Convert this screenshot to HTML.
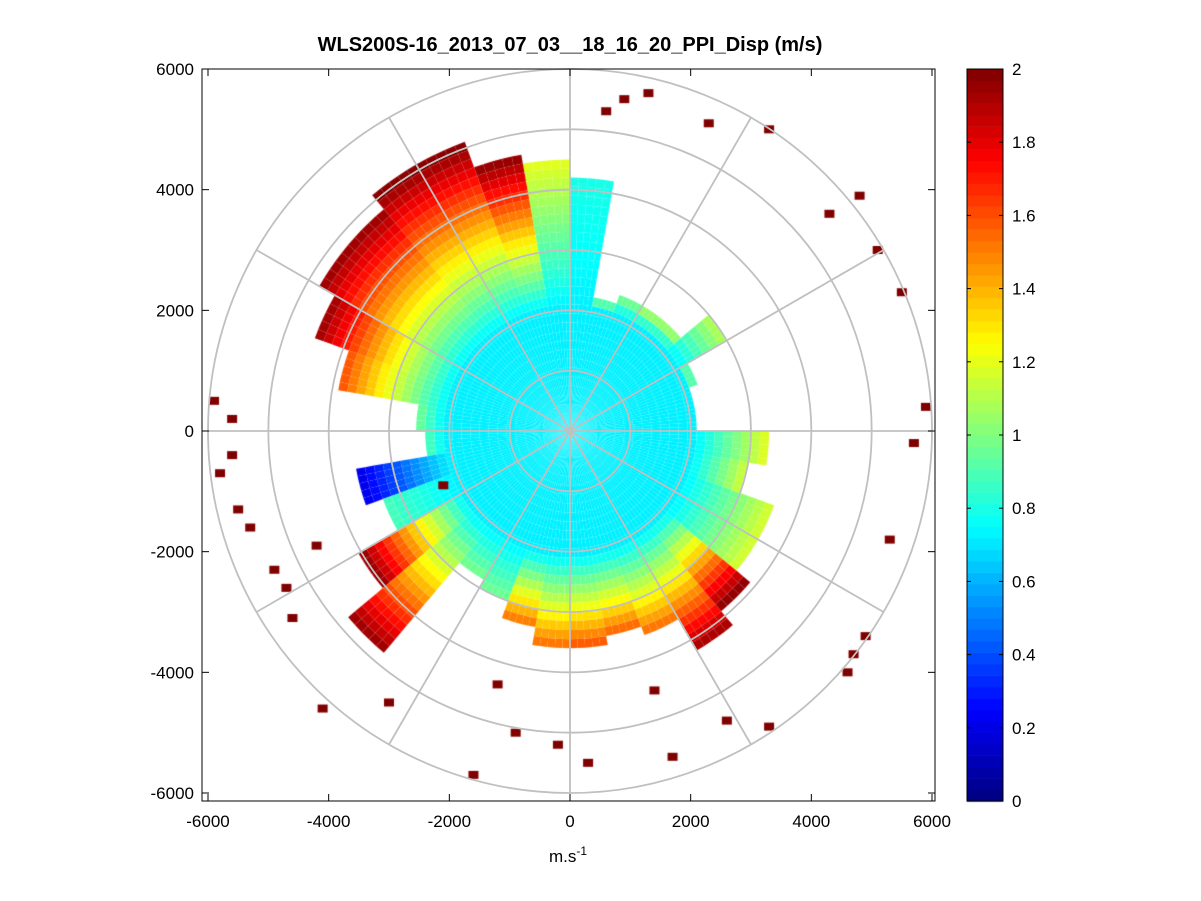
<!DOCTYPE html>
<html><head><meta charset="utf-8"><style>
body{margin:0;background:#fff;width:1201px;height:901px;overflow:hidden;font-family:"Liberation Sans",sans-serif}
#wrap{position:relative;width:1201px;height:901px}
canvas{position:absolute;left:0;top:0}
svg{position:absolute;left:0;top:0}
</style></head><body><div id="wrap">
<canvas id="cv" width="1201" height="901"></canvas>
<svg id="sv" width="1201" height="901"></svg>
</div>
<script>
// sector data: start angle (deg, CCW from east), reach (m), edge value (m/s)
const sectorStart=[0,10,20,30,40,50,60,70,80,90,100,110,120,130,140,150,160,170,180,190,200,210,220,230,240,250,260,270,280,290,300,310,320,330,340,350];
const sectorReach=[2100,2100,2200,2900,2300,2300,2400,2200,4200,4400,4600,5000,5000,4800,4800,4500,3800,2500,2300,3500,3300,4000,4800,2800,3000,3300,3600,3500,3400,3600,4200,3800,3600,3600,3000,3200];
const sectorEdge=[1.1,1.1,1.1,1.1,1.1,1.1,1.1,1.1,0.8,1.2,2,2,2,2,2,2,1.6,1.0,0.9,0.2,0.9,2,2,1.0,1.0,1.6,1.6,1.6,1.6,1.6,2,2,1.2,1.2,1.2,1.2];
const coreValue=0.72, coreRadius=2000;
// isolated outlier echoes (x m, y m, value)
const outX=[-5900,-5600,-5300,-4900,-4700,-4200,600,900,1300,2300,3300,4300,4800,5100,5500,5900,5700,5300,4900,4700,3300,2600,1700,-200,-900,-1200,-3000,-4100,-4600,-5500,-5600,-5800,-2100,-1600,300,1400,4600];
const outY=[500,-400,-1600,-2300,-2600,-1900,5300,5500,5600,5100,5000,3600,3900,3000,2300,400,-200,-1800,-3400,-3700,-4900,-4800,-5400,-5200,-5000,-4200,-4500,-4600,-3100,-1300,200,-700,-900,-5700,-5500,-4300,-4000];
const outV=[2,2,2,2,2,2,2,2,2,2,2,2,2,2,2,2,2,2,2,2,2,2,2,2,2,2,2,2,2,2,2,2,2,2,2,2,2];
const cbTicks=[0,0.2,0.4,0.6,0.8,1,1.2,1.4,1.6,1.8,2];
const xTicks=[-6000,-4000,-2000,0,2000,4000,6000];
const yTicks=[6000,4000,2000,0,-2000,-4000,-6000];

const CX=570,CY=431,S=362/6000;
const X=m=>CX+m*S, Y=m=>CY-m*S;
function jet(v){let t=Math.max(0,Math.min(1,v/2));
 const f=x=>Math.max(0,Math.min(1,1.5-Math.abs(4*t-x)));
 return `rgb(${Math.round(255*f(3))},${Math.round(255*f(2))},${Math.round(255*f(1))})`;}
const cv=document.getElementById('cv').getContext('2d');
for(let i=0;i<sectorStart.length;i++){
 for(let a=0;a<10;a+=2){
  const a0=(sectorStart[i]+a)*Math.PI/180,a1=(sectorStart[i]+a+2)*Math.PI/180;
  const step=150;
  for(let r=0;r<sectorReach[i];r+=step){
   let v=coreValue;
   if(r>coreRadius){const f=(r-coreRadius)/Math.max(1,sectorReach[i]-coreRadius);v=coreValue+(sectorEdge[i]-coreValue)*f;}
   cv.fillStyle=jet(v);cv.beginPath();
   cv.moveTo(X(r*Math.cos(a0)),Y(r*Math.sin(a0)));
   cv.lineTo(X((r+step)*Math.cos(a0)),Y((r+step)*Math.sin(a0)));
   cv.lineTo(X((r+step)*Math.cos(a1)),Y((r+step)*Math.sin(a1)));
   cv.lineTo(X(r*Math.cos(a1)),Y(r*Math.sin(a1)));
   cv.closePath();cv.fill();
  }}}
for(let i=0;i<outX.length;i++){cv.fillStyle=jet(outV[i]);cv.fillRect(X(outX[i])-5,Y(outY[i])-4,10,8);}
for(let k=0;k<64;k++){cv.fillStyle=jet((k+0.5)/64*2);const y0=801-(k+1)*732/64;cv.fillRect(967,y0,36,732/64+0.6);}

const sv=document.getElementById('sv');const NS='http://www.w3.org/2000/svg';
function el(t,a,p){const e=document.createElementNS(NS,t);for(const k in a)e.setAttribute(k,a[k]);(p||sv).appendChild(e);return e;}
const g=el('g',{});


for(let r=1000;r<=6000;r+=1000){el('circle',{cx:CX,cy:CY,r:r*S,fill:'none',stroke:'#c0c0c0','stroke-width':1.8},g);}
for(let a=0;a<360;a+=30){const t=a*Math.PI/180;el('line',{x1:CX,y1:CY,x2:X(6000*Math.cos(t)),y2:Y(6000*Math.sin(t)),stroke:'#c0c0c0','stroke-width':1.8},g);}
const box=el('rect',{x:202,y:69,width:733,height:732,fill:'none',stroke:'#000','stroke-width':1});


xTicks.forEach(v=>{const x=X(v);el('line',{x1:x,y1:801,x2:x,y2:794,stroke:'#000'});el('line',{x1:x,y1:69,x2:x,y2:76,stroke:'#000'});
 const t=el('text',{x:x,y:827,'text-anchor':'middle','font-size':17});t.textContent=v;
 
 });
yTicks.forEach(v=>{const y=Y(v);el('line',{x1:202,y1:y,x2:209,y2:y,stroke:'#000'});el('line',{x1:935,y1:y,x2:928,y2:y,stroke:'#000'});
 const t=el('text',{x:194,y:y+6,'text-anchor':'end','font-size':17});t.textContent=v;
 
 });
const cb=el('rect',{x:967,y:69,width:36,height:732,fill:'none',stroke:'#000'});


cbTicks.forEach(v=>{const y=801-v/2*732;el('line',{x1:967,y1:y,x2:971,y2:y,stroke:'#000'});el('line',{x1:1003,y1:y,x2:999,y2:y,stroke:'#000'});
 const t=el('text',{x:1012,y:y+6,'font-size':17});t.textContent=v;
 
 });
const ti=el('text',{x:570,y:51,'text-anchor':'middle','font-size':20,'font-weight':'bold'});ti.textContent='WLS200S-16_2013_07_03__18_16_20_PPI_Disp (m/s)';


const xl=el('text',{x:568,y:862,'text-anchor':'middle','font-size':17});xl.innerHTML='m.s<tspan dy="-7" font-size="12">-1</tspan>';


</script></body></html>
